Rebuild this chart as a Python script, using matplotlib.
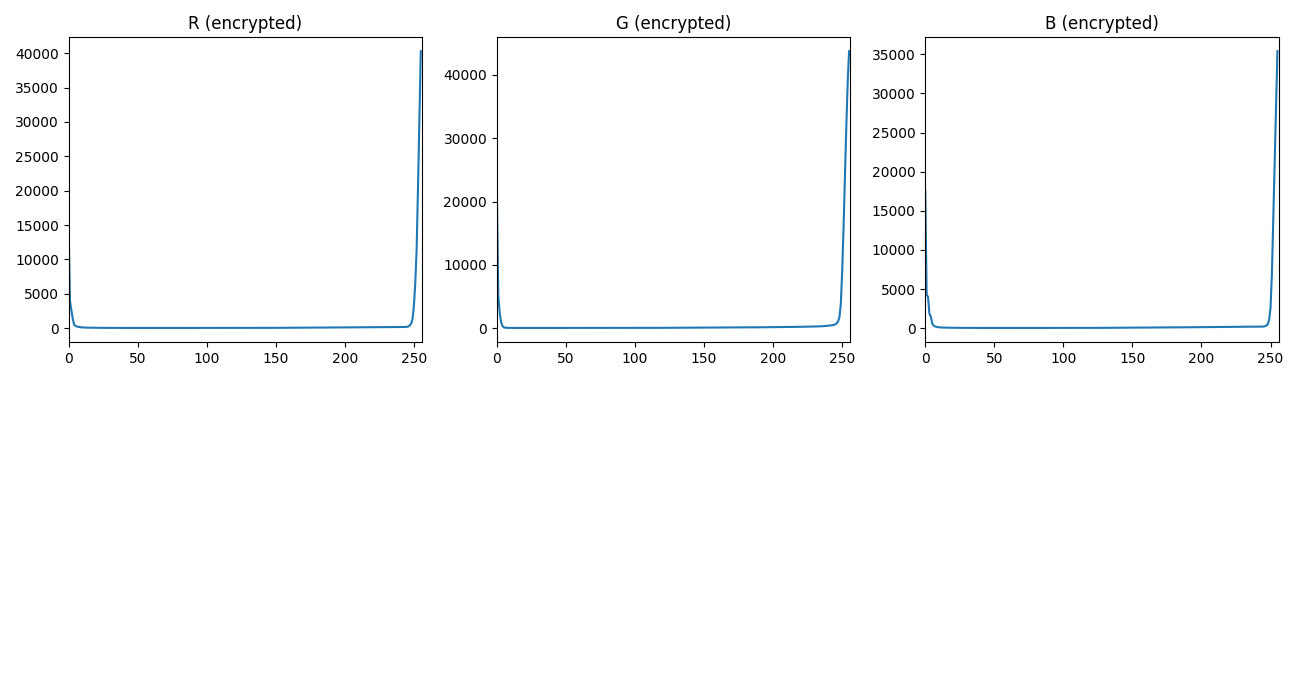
"""
Histograms of the R, G and B channels of an encrypted image.
Counts per pixel value (0-255), read off the reference picture.
"""

import matplotlib
matplotlib.use('Agg')
import matplotlib.pyplot as plt

channel_titles = ['R (encrypted)', 'G (encrypted)', 'B (encrypted)']

# pixel counts per intensity value, 16 values per row
hist_r = [
    14500, 4000, 2600, 1400, 480, 330, 250, 190, 150, 125, 105, 95, 85, 78, 72, 66,
    62, 58, 55, 52, 50, 48, 46, 44, 43, 42, 41, 40, 39, 38, 37, 37,
    36, 36, 35, 35, 34, 34, 34, 33, 33, 33, 32, 32, 32, 31, 31, 31,
    30, 30, 30, 30, 29, 29, 29, 29, 29, 28, 28, 28, 28, 28, 28, 28,
    28, 27, 27, 28, 27, 27, 27, 28, 27, 27, 27, 27, 28, 27, 27, 27,
    27, 27, 28, 27, 27, 28, 27, 28, 28, 27, 28, 28, 28, 28, 29, 28,
    29, 28, 29, 29, 29, 29, 30, 29, 30, 30, 30, 30, 31, 30, 31, 31,
    31, 32, 31, 32, 32, 33, 32, 33, 33, 34, 33, 34, 34, 35, 35, 35,
    36, 36, 36, 37, 37, 38, 38, 38, 39, 39, 40, 40, 41, 41, 42, 42,
    43, 43, 44, 44, 45, 45, 46, 47, 47, 48, 49, 49, 50, 51, 51, 52,
    53, 54, 55, 55, 56, 57, 58, 59, 60, 61, 62, 63, 64, 65, 66, 67,
    68, 69, 70, 72, 73, 74, 75, 77, 78, 79, 81, 82, 83, 85, 86, 88,
    89, 91, 92, 94, 95, 97, 99, 100, 102, 104, 106, 107, 109, 111, 113, 115,
    117, 119, 121, 123, 125, 127, 129, 131, 133, 135, 137, 139, 141, 143, 145, 147,
    149, 151, 153, 155, 157, 159, 160, 162, 163, 164, 165, 166, 167, 167, 168, 168,
    168, 168, 168, 170, 175, 195, 250, 380, 650, 1300, 3200, 6500, 11500, 20500, 30500, 40300,
]

hist_g = [
    21000, 5200, 2400, 950, 330, 130, 65, 45, 38, 35, 33, 32, 31, 30, 30, 29,
    29, 28, 28, 28, 27, 27, 27, 27, 26, 26, 26, 26, 26, 26, 25, 25,
    25, 25, 24, 25, 25, 24, 25, 25, 25, 24, 25, 25, 25, 25, 26, 25,
    25, 26, 25, 26, 26, 26, 26, 26, 27, 26, 27, 27, 27, 27, 28, 27,
    27, 27, 28, 28, 28, 28, 28, 29, 29, 29, 29, 29, 30, 30, 30, 30,
    30, 31, 31, 31, 31, 32, 32, 32, 32, 33, 33, 33, 34, 34, 34, 35,
    35, 35, 36, 36, 36, 37, 37, 38, 38, 38, 39, 39, 40, 40, 41, 41,
    42, 42, 43, 43, 44, 44, 45, 45, 46, 47, 47, 48, 48, 49, 50, 50,
    51, 52, 52, 53, 54, 55, 55, 56, 57, 58, 59, 59, 60, 61, 62, 63,
    64, 65, 66, 67, 68, 69, 70, 71, 72, 73, 74, 75, 76, 78, 79, 80,
    81, 83, 84, 85, 87, 88, 89, 91, 92, 94, 95, 97, 98, 100, 101, 103,
    105, 106, 108, 110, 111, 113, 115, 117, 119, 121, 123, 125, 127, 129, 131, 133,
    135, 137, 139, 142, 144, 146, 148, 151, 153, 155, 158, 160, 163, 165, 168, 170,
    173, 176, 178, 181, 184, 187, 190, 193, 196, 199, 202, 205, 208, 212, 215, 219,
    222, 226, 230, 234, 238, 243, 248, 254, 261, 270, 280, 292, 306, 322, 340, 360,
    385, 410, 440, 470, 520, 600, 760, 1050, 1700, 3800, 9000, 16000, 24000, 32000, 39000, 43750,
]

hist_b = [
    17500, 4300, 4000, 1850, 1500, 650, 330, 230, 180, 140, 115, 100, 90, 82, 76, 70,
    66, 62, 59, 56, 53, 51, 49, 47, 45, 44, 43, 42, 41, 40, 39, 38,
    37, 37, 36, 36, 35, 35, 34, 34, 34, 33, 33, 33, 32, 32, 32, 32,
    31, 31, 31, 31, 31, 30, 30, 30, 30, 30, 30, 30, 30, 29, 30, 29,
    29, 29, 29, 29, 29, 29, 29, 29, 29, 29, 29, 29, 29, 29, 30, 29,
    30, 29, 30, 30, 30, 30, 30, 30, 31, 30, 31, 31, 31, 31, 32, 31,
    32, 32, 32, 33, 33, 33, 33, 34, 34, 34, 35, 35, 35, 36, 36, 36,
    37, 37, 38, 38, 38, 39, 39, 40, 40, 41, 41, 42, 42, 43, 43, 44,
    44, 45, 45, 46, 47, 47, 48, 49, 49, 50, 51, 51, 52, 53, 54, 54,
    55, 56, 57, 58, 58, 59, 60, 61, 62, 63, 64, 65, 66, 67, 68, 69,
    70, 71, 72, 73, 75, 76, 77, 78, 80, 81, 82, 84, 85, 86, 88, 89,
    91, 92, 94, 95, 97, 98, 100, 102, 103, 105, 107, 108, 110, 112, 114, 116,
    118, 120, 122, 124, 126, 128, 130, 132, 134, 136, 139, 141, 143, 145, 148, 150,
    152, 155, 157, 160, 162, 165, 167, 170, 172, 175, 177, 180, 182, 185, 187, 189,
    191, 193, 195, 196, 197, 198, 199, 199, 200, 200, 200, 199, 198, 197, 196, 195,
    194, 193, 193, 195, 200, 215, 250, 330, 520, 1100, 2600, 7000, 14000, 21000, 28300, 35400,
]

plt.figure(figsize=(13, 7))

# one panel per channel in the top row, bottom row left empty
for idx, hist in enumerate([hist_r, hist_g, hist_b]):
    plt.subplot(2, 3, idx + 1)
    plt.plot(hist)
    plt.title(channel_titles[idx])
    plt.xlim([0, 256])

plt.tight_layout()
plt.savefig('out.png', dpi=100)
